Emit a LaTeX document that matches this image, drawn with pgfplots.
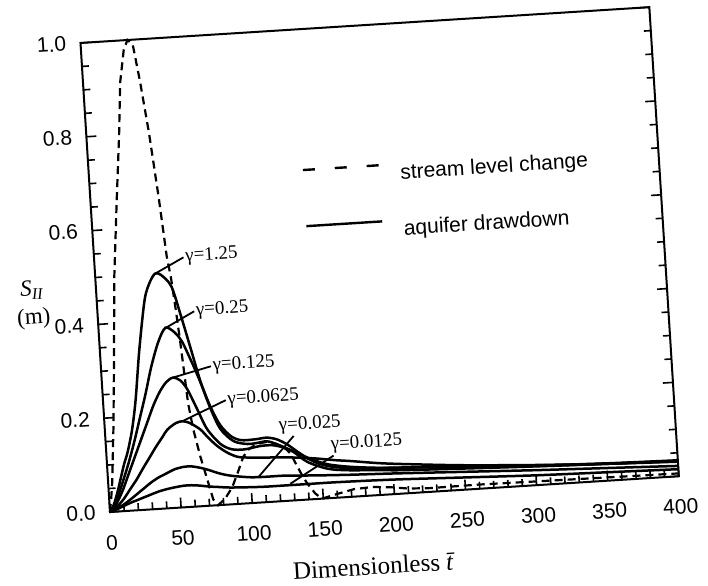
\documentclass[border=0pt]{standalone}
\usepackage{pgfplots}
\pgfplotsset{compat=1.18}
\usepackage{fontspec}
\setmainfont{Liberation Serif}
\newfontfamily\arial{Liberation Sans}

\pgfplotstableread{
x y
0 0
1.5 0.03
2.8 0.061
6 0.174
9 0.3
13.4 0.5
18.4 0.66
23 0.8
26 0.91
30 0.98
33 1.0
36.5 0.99
40 0.91
44 0.80
48 0.66
51 0.535
53 0.49
55 0.42
56.5 0.36
57.8 0.30
59.5 0.22
62 0.164
65.7 0.106
69.6 0.056
72.9 0.013
76 0.0
81 0.012
86.7 0.036
91.7 0.07
95.9 0.1
100 0.115
106 0.125
113 0.128
120 0.122
126 0.11
129 0.1
133 0.073
136.4 0.051
139.5 0.034
144.6 0.012
149 0.0
160 0.008
172 0.016
185 0.018
198 0.015
210 0.01
225 0.008
260 0.009
300 0.008
350 0.007
400 0.006
}\stream

\pgfplotstableread{
x y
0 0
3 0.015
6 0.04
9 0.07
12 0.1
15 0.125
19.1 0.172
22.9 0.235
27.7 0.341
33.6 0.446
37.9 0.482
42 0.5
46 0.497
52.9 0.471
58.4 0.406
63.9 0.334
69.3 0.263
75.1 0.205
81.1 0.161
89.7 0.134
99.3 0.126
106 0.127
113.5 0.129
122.4 0.118
131.2 0.103
140.5 0.08
154.2 0.063
168.2 0.057
191 0.053
205 0.05
250 0.045
300 0.04
350 0.036
400 0.033
}\gA

\pgfplotstableread{
x y
0 0
3 0.01
6 0.03
10 0.06
15 0.1
20 0.145
25 0.195
30 0.245
35 0.3
40 0.345
44 0.372
47 0.384
50 0.381
54 0.37
58 0.352
62 0.322
66 0.29
70 0.255
75 0.21
81 0.17
88 0.145
95 0.135
105 0.135
113 0.137
120 0.132
127 0.12
134 0.103
142 0.085
150 0.073
160 0.065
175 0.06
200 0.056
250 0.049
300 0.042
350 0.037
400 0.034
}\gB

\pgfplotstableread{
x y
0 0
3 0.008
6 0.022
10 0.045
15 0.08
20 0.115
25 0.15
30 0.185
35 0.22
40 0.248
45 0.268
50 0.277
55 0.27
59.6 0.25
65.7 0.206
71.7 0.163
80.3 0.13
88 0.117
97 0.115
108 0.12
117 0.12
126 0.112
135 0.098
145 0.083
155 0.072
170 0.064
190 0.058
210 0.055
250 0.049
300 0.041
350 0.036
400 0.032
}\gC

\pgfplotstableread{
x y
0 0
5 0.01
10 0.025
15 0.045
20 0.065
25 0.088
30.7 0.113
35 0.132
40 0.152
43.7 0.167
50 0.18
55 0.183
60 0.178
67 0.163
72 0.145
78 0.126
85 0.11
92 0.1
100 0.097
110 0.095
124 0.093
135 0.09
147 0.086
160 0.08
171 0.076
190 0.068
210 0.062
250 0.052
300 0.043
350 0.036
400 0.031
}\gD

\pgfplotstableread{
x y
0 0
5 0.006
10 0.014
15 0.024
20 0.035
25 0.046
29.5 0.056
35 0.066
41.7 0.075
47 0.082
53.5 0.086
59 0.086
65 0.082
71 0.076
76.8 0.069
82 0.064
88 0.06
100 0.055
110 0.054
123 0.054
135 0.052
147 0.05
170 0.047
200 0.044
250 0.038
300 0.032
350 0.027
400 0.022
}\gE

\pgfplotstableread{
x y
0 0
5 0.005
10 0.011
15 0.017
20 0.022
28.9 0.031
35 0.037
40.9 0.041
47 0.044
53 0.046
58 0.046
64.3 0.044
70 0.041
76 0.039
85 0.036
99 0.034
110 0.033
123 0.033
140 0.033
160 0.033
200 0.031
250 0.026
300 0.021
350 0.018
400 0.015
}\gF

\begin{document}
\begin{tikzpicture}
\begin{scope}[rotate=3.6, transform shape]
\begin{axis}[
  scale only axis,
  width=285pt, height=235pt,
  xmin=0, xmax=400, ymin=0, ymax=1,
  xtick={0,50,...,400},
  ytick={0,0.2,0.4,0.6,0.8,1.0},
  minor x tick num=4,
  minor y tick num=3,
  xtick pos=bottom,
  ytick pos=both,
  tick align=inside,
  major tick length=5pt,
  minor tick length=3.5pt,
  every tick/.style={black, line width=0.8pt},
  axis line style={line width=1pt},
  /pgf/number format/assume math mode=true,
  ticklabel style={font=\arial\fontsize{10.5}{12}\selectfont},
  yticklabel style={/pgf/number format/fixed, /pgf/number format/fixed zerofill, /pgf/number format/precision=1, inner xsep=7pt},
  xticklabel style={/pgf/number format/fixed, yshift=-8pt},
  xlabel={Dimensionless \textit{\=t}},
  xlabel style={font=\fontsize{12.5}{14}\selectfont, at={(axis description cs:0.46,-0.15)}, anchor=center},
  ylabel={\textit{S}\textsubscript{\textit{II}}\\(m)},
  ylabel style={font=\fontsize{11.5}{14}\selectfont, rotate=-90, align=center, at={(axis description cs:-0.112,0.45)}, anchor=center},
  legend style={draw=none, fill=none, at={(axis cs:149,0.71)}, anchor=north west,
    font=\arial\fontsize{10.5}{12}\selectfont, row sep=15pt, column sep=8pt, inner sep=0pt},
  legend cell align=left,
  legend image code/.code={\draw[#1] (0pt,4.5pt) -- (38pt,4.5pt);},
  clip=false,
]
\addplot[forget plot, black, line width=1.1pt, dash pattern=on 4pt off 2.5pt] table {\stream};
\addplot[forget plot, black, line width=1.25pt, smooth] table {\gA};
\addplot[forget plot, black, line width=1.25pt, smooth] table {\gB};
\addplot[forget plot, black, line width=1.25pt, smooth] table {\gC};
\addplot[forget plot, black, line width=1.25pt, smooth] table {\gD};
\addplot[forget plot, black, line width=1.25pt, smooth] table {\gE};
\addplot[forget plot, black, line width=1.25pt, smooth] table {\gF};

\addlegendimage{black, line width=1.2pt, dash pattern=on 6pt off 10pt}
\addlegendentry{stream level change}
\addlegendimage{black, line width=1.2pt}
\addlegendentry{aquifer drawdown}

\draw[line width=0.9pt] (axis cs:42,0.5) -- (axis cs:62.7,0.531) node[anchor=west, inner sep=0.5pt, font=\fontsize{9.5}{11}\selectfont]{γ=1.25};
\draw[line width=0.9pt] (axis cs:47.4,0.384) -- (axis cs:67.8,0.415) node[anchor=west, inner sep=0.5pt, font=\fontsize{9.5}{11}\selectfont]{γ=0.25};
\draw[line width=0.9pt] (axis cs:49.9,0.277) -- (axis cs:77.1,0.296) node[anchor=west, inner sep=0.5pt, font=\fontsize{9.5}{11}\selectfont]{γ=0.125};
\draw[line width=0.9pt] (axis cs:54.6,0.183) -- (axis cs:86,0.222) node[anchor=west, inner sep=0.5pt, font=\fontsize{9.5}{11}\selectfont]{γ=0.0625};
\draw[line width=0.9pt] (axis cs:105.4,0.054) -- (axis cs:132,0.137) node[anchor=south west, inner sep=0.5pt, xshift=-8pt, font=\fontsize{9.5}{11}\selectfont]{γ=0.025};
\draw[line width=0.9pt] (axis cs:127.6,0.036) -- (axis cs:159.1,0.09) node[anchor=south west, inner sep=0.5pt, xshift=-2pt, font=\fontsize{9.5}{11}\selectfont]{γ=0.0125};
\end{axis}
\end{scope}
\pgfresetboundingbox
\useasboundingbox (-55pt,-36.5pt) rectangle (299pt,256pt);
\end{tikzpicture}
\end{document}
